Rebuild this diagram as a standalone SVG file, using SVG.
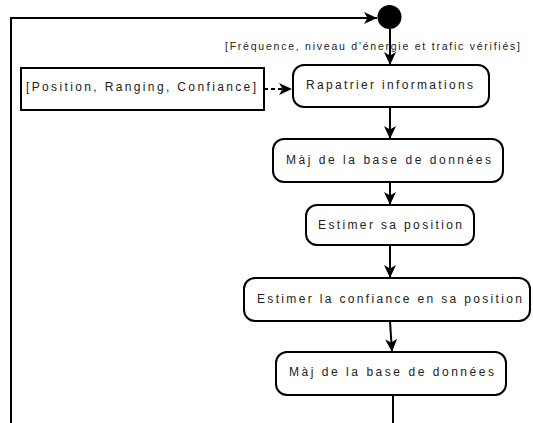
<svg xmlns="http://www.w3.org/2000/svg" width="533" height="423" viewBox="0 0 533 423">
<defs>
<marker id="arr" markerWidth="14" markerHeight="13" refX="13" refY="6.5" orient="auto" markerUnits="userSpaceOnUse">
<path d="M0,0.5 L13,6.5 L0,12.5 L3.5,6.5 Z" fill="#000"/>
</marker>
</defs>
<style>
.box{fill:#fff;stroke:#000;stroke-width:2}
.t{font-family:"Liberation Sans",Arial,sans-serif;font-size:12px;fill:#222;text-anchor:middle}
.lbl{font-family:"Liberation Sans",Arial,sans-serif;font-size:10.5px;fill:#222;text-anchor:middle}
.c{fill:none;stroke:#000;stroke-width:2}
.d{fill:none;stroke:#000;stroke-width:2;stroke-dasharray:4 3}
</style>
<rect width="533" height="423" fill="#fff"/>
<g id="connectors">
<path class="c" d="M11,423 L11,18 L377,18" marker-end="url(#arr)"/>
<path class="c" d="M390,29 L390,65" marker-end="url(#arr)"/>
<path class="c" d="M390,107 L390,139" marker-end="url(#arr)"/>
<path class="c" d="M390,182 L390,205" marker-end="url(#arr)"/>
<path class="c" d="M390,245 L390,278" marker-end="url(#arr)"/>
<path class="c" d="M390,321 L392,352" marker-end="url(#arr)"/>
<path class="c" d="M393,395 L393,423"/>
<path class="d" d="M264,89 L292,89" marker-end="url(#arr)"/>
<text class="lbl" x="372.5" y="50" textLength="295" lengthAdjust="spacing">[Fréquence, niveau d'énergie et trafic vérifiés]</text>
</g>
<g id="start"><circle cx="389.5" cy="17" r="12" fill="#000"/></g>
<g id="data">
<rect x="21" y="68" width="243" height="42" fill="#fff" stroke="#000" stroke-width="2"/>
<text class="t" x="141" y="91" textLength="230" lengthAdjust="spacing">[Position, Ranging, Confiance]</text>
</g>
<g id="rapatrier">
<rect class="box" x="293" y="65" width="196" height="42" rx="11"/>
<text class="t" x="389.5" y="89" textLength="167" lengthAdjust="spacing">Rapatrier informations</text>
</g>
<g id="maj1">
<rect class="box" x="273" y="139" width="230" height="43" rx="11"/>
<text class="t" x="388.5" y="164" textLength="205" lengthAdjust="spacing">Màj de la base de données</text>
</g>
<g id="estimer">
<rect class="box" x="306" y="205" width="168" height="40" rx="11"/>
<text class="t" x="390" y="229" textLength="144" lengthAdjust="spacing">Estimer sa position</text>
</g>
<g id="confiance">
<rect class="box" x="244" y="278" width="286" height="43" rx="11"/>
<text class="t" x="389.5" y="303" textLength="265" lengthAdjust="spacing">Estimer la confiance en sa position</text>
</g>
<g id="maj2">
<rect class="box" x="276" y="352" width="230" height="43" rx="11"/>
<text class="t" x="391.5" y="376" textLength="205" lengthAdjust="spacing">Màj de la base de données</text>
</g>
</svg>
